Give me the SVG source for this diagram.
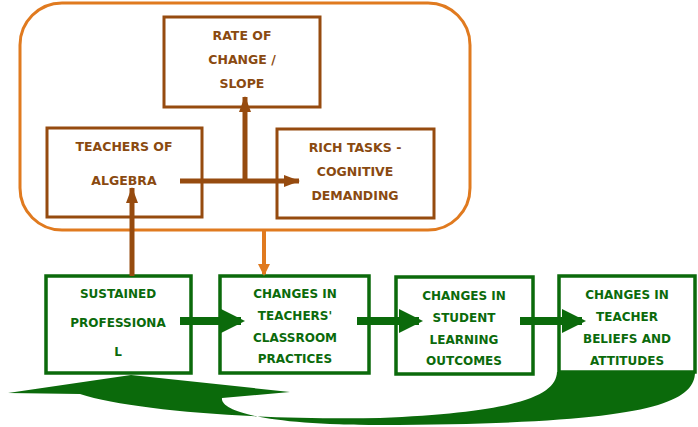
<svg xmlns="http://www.w3.org/2000/svg" width="698" height="427" viewBox="0 0 698 427">
<style>
.b{fill:#fff;stroke:#964b0f;stroke-width:3}
.g{fill:#fff;stroke:#0b6a0b;stroke-width:3.5}
.tb{font-family:"DejaVu Sans",sans-serif;font-size:12.5px;font-weight:bold;fill:#8a4a10;text-anchor:middle}
.tg{font-family:"DejaVu Sans",sans-serif;font-size:12px;font-weight:bold;fill:#0b6a0b;text-anchor:middle}
</style>
<defs>
<marker id="ab" markerWidth="3.2" markerHeight="2.4" refX="3" refY="1.2" orient="auto" markerUnits="strokeWidth"><path d="M0,0 L3.2,1.2 L0,2.4z" fill="#964b0f"/></marker>
<marker id="ao" markerWidth="3" markerHeight="3" refX="2.5" refY="1.5" orient="auto" markerUnits="strokeWidth"><path d="M0,0 L3,1.5 L0,3z" fill="#e07a1f"/></marker>
<marker id="ag" markerWidth="3" markerHeight="3" refX="2.5" refY="1.5" orient="auto" markerUnits="strokeWidth"><path d="M0,0 L3,1.5 L0,3z" fill="#0b6a0b"/></marker>
</defs>
<rect x="20" y="3" width="450" height="227" rx="42" fill="none" stroke="#e07a1f" stroke-width="3"/>
<g id="rate"><rect class="b" x="164" y="17" width="156" height="90"/>
<text class="tb" x="242" y="40">RATE OF</text><text class="tb" x="242" y="64">CHANGE /</text><text class="tb" x="242" y="88">SLOPE</text></g>
<g id="teachers"><rect class="b" x="47" y="128" width="155" height="89"/>
<text class="tb" x="124" y="151">TEACHERS OF</text><text class="tb" x="124" y="185">ALGEBRA</text></g>
<g id="rich"><rect class="b" x="277" y="129" width="157" height="89"/>
<text class="tb" x="355" y="152">RICH TASKS -</text><text class="tb" x="355" y="176">COGNITIVE</text><text class="tb" x="355" y="200">DEMANDING</text></g>
<g id="sustained"><rect class="g" x="46" y="276" width="145" height="97"/>
<text class="tg" x="118" y="298">SUSTAINED</text><text class="tg" x="118" y="327">PROFESSIONA</text><text class="tg" x="118" y="356">L</text></g>
<g id="classroom"><rect class="g" x="220" y="276" width="149" height="97"/>
<text class="tg" x="295" y="298">CHANGES IN</text><text class="tg" x="295" y="320">TEACHERS'</text><text class="tg" x="295" y="342">CLASSROOM</text><text class="tg" x="295" y="363">PRACTICES</text></g>
<g id="student"><rect class="g" x="396" y="277" width="137" height="97"/>
<text class="tg" x="464" y="300">CHANGES IN</text><text class="tg" x="464" y="322">STUDENT</text><text class="tg" x="464" y="344">LEARNING</text><text class="tg" x="464" y="365">OUTCOMES</text></g>
<g id="beliefs"><rect class="g" x="559" y="276" width="136" height="96"/>
<text class="tg" x="627" y="299">CHANGES IN</text><text class="tg" x="627" y="321">TEACHER</text><text class="tg" x="627" y="343">BELIEFS AND</text><text class="tg" x="627" y="365">ATTITUDES</text></g>
<g id="connectors">
<path d="M180,181 H299" stroke="#964b0f" stroke-width="5" fill="none" marker-end="url(#ab)"/>
<path d="M245,181 V97" stroke="#964b0f" stroke-width="5" fill="none" marker-end="url(#ab)"/>
<path d="M132,276 V188" stroke="#964b0f" stroke-width="5" fill="none" marker-end="url(#ab)"/>
<path d="M264,230 V274" stroke="#e07a1f" stroke-width="4" fill="none" marker-end="url(#ao)"/>
<path d="M180,321 H241" stroke="#0b6a0b" stroke-width="8" fill="none" marker-end="url(#ag)"/>
<path d="M357,321 H419" stroke="#0b6a0b" stroke-width="8" fill="none" marker-end="url(#ag)"/>
<path d="M520,321 H582" stroke="#0b6a0b" stroke-width="8" fill="none" marker-end="url(#ag)"/>
<path d="M557,372 L695,372 C695,405 640,424 380,425 C270,425 220,412 222,398 L290,392 L131,375 L8,393 L80,394 C130,410 250,420 380,418 C520,412 556,395 557,372 Z" fill="#0b6a0b"/>
</g>
</svg>
